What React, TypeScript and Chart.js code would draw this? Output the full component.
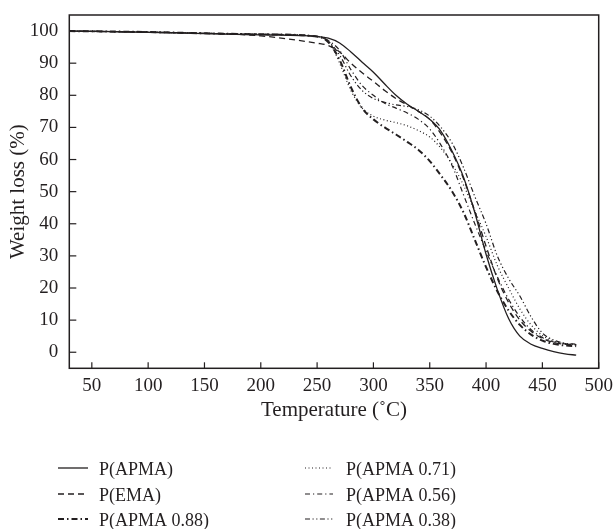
import React, { useEffect, useRef } from 'react';
import { Chart, registerables } from 'chart.js';

Chart.register(...registerables);

// ---- data ----
const temps = [30, 100, 150, 200, 250, 260, 270, 280, 290, 300, 310, 320, 330, 340, 350, 360, 370, 380, 390, 400, 410, 420, 430, 440, 450, 460, 470, 480];

const pAPMA = [100, 99.6, 99.2, 98.8, 98.3, 97.8, 96.3, 93.5, 90.3, 87.2, 83.5, 80, 77.2, 75, 72.5, 68.8, 62.5, 54.5, 43.5, 30.5, 19.5, 10.5, 5, 2.5, 1.2, 0.2, -0.5, -0.9];
const pEMA = [100, 99.6, 99.3, 98.5, 96.2, 95.5, 93.5, 90, 87, 84.3, 81.5, 79, 77, 75, 72.5, 68, 62, 54, 44, 33, 23, 15.5, 10, 6.5, 4.3, 3, 2.5, 2.3];
const pAPMA088 = [100, 99.7, 99.3, 99, 98.3, 96.5, 91, 82.5, 76, 72.5, 70, 67.8, 65.5, 63, 59.5, 55, 50, 43.5, 35, 26.5, 19, 13, 8.5, 5.5, 3.6, 2.6, 2.1, 1.9];
const pAPMA071 = [100, 99.7, 99.3, 99, 98.3, 97, 90, 81.5, 76, 73.5, 72.3, 71.5, 70.5, 69, 67, 63.5, 58.5, 52, 44, 36, 27, 20, 13.5, 8.5, 5.2, 3.5, 2.7, 2.4];
const pAPMA056 = [100, 99.7, 99.3, 99, 98.3, 97, 94, 88, 83, 80, 77.5, 76, 74.5, 72.5, 69.5, 64.5, 58, 49, 40, 31.5, 23.5, 16.5, 11, 7, 4.6, 3.2, 2.6, 2.3];
const pAPMA038 = [100, 99.7, 99.3, 99, 98.3, 96.8, 92.5, 86, 81.5, 79, 77.8, 77, 76.5, 75.5, 73.5, 70, 65, 57.5, 48.5, 40, 30, 23, 17.5, 11, 6, 3.8, 2.8, 2.5];

const seriesNames = ['P(APMA)', 'P(EMA)', 'P(APMA 0.88)', 'P(APMA 0.71)', 'P(APMA 0.56)', 'P(APMA 0.38)'];
const seriesValues = [pAPMA, pEMA, pAPMA088, pAPMA071, pAPMA056, pAPMA038];

const xTickValues = [50, 100, 150, 200, 250, 300, 350, 400, 450, 500];
const yTickValues = [0, 10, 20, 30, 40, 50, 60, 70, 80, 90, 100];

const xTitle = 'Temperature (\u02DAC)';
const yTitle = 'Weight loss (%)';

// ---- styles ----
const INK = '#231f20';
const FONT = "'Liberation Serif', 'Times New Roman', serif";
const lineStyles = [
  { dash: [], width: 1.3 },
  { dash: [6, 4], width: 1.3 },
  { dash: [6, 3, 1.5, 3], width: 2 },
  { dash: [1, 2.5], width: 1.2 },
  { dash: [5, 3, 1.2, 3], width: 1.2 },
  { dash: [5, 2.5, 1.2, 2.5, 1.2, 2.5], width: 1.2 },
];

// legend layout: [column, row]
const legendPos = [
  [0, 0], [0, 1], [0, 2], [1, 0], [1, 1], [1, 2],
];

const decorPlugin = {
  id: 'decor',
  afterDraw(chart: any) {
    const { ctx, chartArea, scales } = chart;
    const { left, right, top, bottom } = chartArea;
    ctx.save();
    ctx.strokeStyle = INK;
    ctx.lineWidth = 1.5;
    ctx.setLineDash([]);
    ctx.strokeRect(left, top, right - left, bottom - top);
    // inward ticks
    ctx.lineWidth = 1.2;
    scales.x.ticks.forEach((t: any) => {
      const px = scales.x.getPixelForValue(t.value);
      ctx.beginPath();
      ctx.moveTo(px, bottom);
      ctx.lineTo(px, bottom - 6);
      ctx.stroke();
    });
    scales.y.ticks.forEach((t: any) => {
      const py = scales.y.getPixelForValue(t.value);
      ctx.beginPath();
      ctx.moveTo(left, py);
      ctx.lineTo(left + 7, py);
      ctx.stroke();
    });
    // legend
    const colSample = [[58, 88], [305, 333]];
    const colText = [99, 346];
    const rowMid = [468, 494, 519];
    ctx.font = `18px ${FONT}`;
    ctx.fillStyle = INK;
    ctx.textAlign = 'left';
    ctx.textBaseline = 'alphabetic';
    seriesNames.forEach((name, i) => {
      const [c, r] = legendPos[i];
      const st = lineStyles[i];
      ctx.beginPath();
      ctx.lineWidth = st.width;
      ctx.setLineDash(st.dash);
      ctx.moveTo(colSample[c][0], rowMid[r]);
      ctx.lineTo(colSample[c][1], rowMid[r]);
      ctx.stroke();
      ctx.setLineDash([]);
      ctx.fillText(name, colText[c], rowMid[r] + 6.5);
    });
    ctx.restore();
  },
};

export default function App() {
  const ref = useRef<HTMLCanvasElement>(null);
  useEffect(() => {
    if (!ref.current) return;
    const datasets = seriesNames.map((name, i) => ({
      label: name,
      data: temps.map((t, k) => ({ x: t, y: seriesValues[i][k] })),
      borderColor: INK,
      borderWidth: lineStyles[i].width,
      borderDash: lineStyles[i].dash,
      pointRadius: 0,
      fill: false,
      cubicInterpolationMode: 'monotone' as const,
    }));
    const chart = new Chart(ref.current, {
      type: 'line',
      data: { datasets },
      plugins: [decorPlugin],
      options: {
        animation: false,
        responsive: true,
        maintainAspectRatio: false,
        layout: { padding: { top: 15, right: 16.3, left: 0, bottom: 100.7 } },
        plugins: { legend: { display: false }, tooltip: { enabled: false } },
        scales: {
          x: {
            type: 'linear',
            min: 30,
            max: 500,
            afterBuildTicks: (s: any) => { s.ticks = xTickValues.map((v) => ({ value: v })); },
            afterFit: (s: any) => { s.height = 60; s.paddingLeft = 0; s.paddingRight = 0; },
            grid: { display: false, drawTicks: false },
            border: { display: false },
            ticks: { color: INK, font: { family: FONT, size: 19 }, padding: 6, maxRotation: 0, autoSkip: false },
            title: { display: true, text: xTitle, color: INK, font: { family: FONT, size: 21 }, padding: { top: 0, bottom: 5.5 } },
          },
          y: {
            type: 'linear',
            min: -5,
            max: 105,
            afterBuildTicks: (s: any) => { s.ticks = yTickValues.map((v) => ({ value: v })); },
            afterFit: (s: any) => { s.width = 69.3; s.paddingTop = 0; s.paddingBottom = 0; },
            grid: { display: false, drawTicks: false },
            border: { display: false },
            ticks: { color: INK, font: { family: FONT, size: 19 }, padding: 11, autoSkip: false },
            title: { display: true, text: yTitle, color: INK, font: { family: FONT, size: 21 }, padding: { top: 5.5, bottom: 0 } },
          },
        },
      },
    });
    return () => chart.destroy();
  }, []);
  return (
    <div style={{ position: 'absolute', left: 0, top: 0, width: 615, height: 529, background: '#fff' }}>
      <canvas ref={ref} />
    </div>
  );
}
